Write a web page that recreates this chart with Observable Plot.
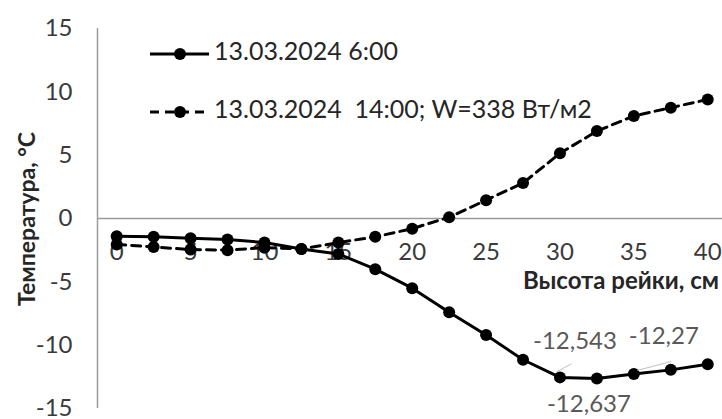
<!DOCTYPE html>
<html>
<head>
<meta charset="utf-8">
<script src="https://cdn.jsdelivr.net/npm/d3@7"></script>
<script src="https://cdn.jsdelivr.net/npm/@observablehq/plot@0.6"></script>
<style>
  html, body { margin: 0; padding: 0; background: #fff; }
  #chart { width: 722px; height: 419px; overflow: hidden; }
</style>
</head>
<body>
<div id="chart"></div>
<script>
const heights = [0, 2.5, 5, 7.5, 10, 12.5, 15, 17.5, 20, 22.5, 25, 27.5, 30, 32.5, 35, 37.5, 40];
const temp0600 = [-1.4, -1.45, -1.55, -1.65, -1.9, -2.4, -2.8, -4.0, -5.5, -7.4, -9.2, -11.15, -12.543, -12.637, -12.27, -11.95, -11.5];
const temp1400 = [-2.05, -2.25, -2.45, -2.5, -2.3, -2.4, -1.9, -1.45, -0.8, 0.1, 1.45, 2.8, 5.15, 6.9, 8.1, 8.75, 9.4];
const seriesNames = ["13.03.2024 6:00", "13.03.2024  14:00; W=338 Вт/м2"];
const xTicks = [0, 5, 10, 15, 20, 25, 30, 35, 40];
const yTicks = [-15, -10, -5, 0, 5, 10, 15];
const xTitle = "Высота рейки, см";
const yTitle = "Температура, °С";
const labelled = [30, 32.5, 35];
const xDomain = [-1.3, 41];
const yDomain = [-15, 15];

const s1 = heights.map((h, i) => ({h, t: temp0600[i]}));
const s2 = heights.map((h, i) => ({h, t: temp1400[i]}));
const lab = s1.filter(d => labelled.includes(d.h));
const fmt = v => String(v).replace(".", ",");
const labOffsets = {30: [15, -28], 32.5: [-8, 33], 35: [30, -30]};

const FONT = "Lato, 'Open Sans', sans-serif";
const plot = Plot.plot({
  width: 722, height: 419,
  marginLeft: 97, marginRight: 0, marginTop: 28, marginBottom: 11,
  style: {fontFamily: FONT, fontSize: "24px", color: "#3a3a3a", background: "#fff"},
  x: {domain: xDomain, axis: null},
  y: {domain: yDomain, axis: null},
  marks: [
    Plot.ruleX([xDomain[0]], {stroke: "#9a9a9a", strokeWidth: 1.5}),
    Plot.ruleY([0], {stroke: "#9a9a9a", strokeWidth: 1.5}),
    Plot.axisY({ticks: yTicks, tickSize: 0, tickPadding: 25, label: null, fontSize: 24, fill: "#3a3a3a", tickFormat: d => String(d)}),
    Plot.text(xTicks, {x: d => d, y: 0, dy: 34, text: d => String(d), fontSize: 24, fill: "#3a3a3a"}),
    Plot.line(s1, {x: "h", y: "t", stroke: "#000", strokeWidth: 3}),
    Plot.dot(s1, {x: "h", y: "t", r: 6, fill: "#000"}),
    Plot.line(s2, {x: "h", y: "t", stroke: "#000", strokeWidth: 3, strokeDasharray: "9,6"}),
    Plot.dot(s2, {x: "h", y: "t", r: 6, fill: "#000"}),
    Plot.text(lab, {x: "h", y: "t", text: d => fmt(d.t), fill: "#595959", fontSize: 24,
      render: (index, scales, values, dims, ctx, next) => {
        const g = next(index, scales, values, dims, ctx);
        d3.select(g).selectAll("text").each(function(_, k) {
          const d = lab[index[k]];
          const o = labOffsets[d.h];
          const el = d3.select(this);
          el.attr("transform", null);
          el.attr("x", scales.x(d.h) + o[0]).attr("y", scales.y(d.t) + o[1]);
        });
        return g;
      }})
  ]
});
document.getElementById("chart").appendChild(plot);

const svg = d3.select(plot);
const xs = plot.scale("x"), ys = plot.scale("y");
// leader lines
[[30, [-3, -5], [12, -13]], [35, [4, -3], [38, -12]]].forEach(([h, a, b]) => {
  const d = s1.find(p => p.h === h);
  const px = xs.apply(d.h), py = ys.apply(d.t);
  svg.append("line").attr("x1", px + a[0]).attr("y1", py + a[1]).attr("x2", px + b[0]).attr("y2", py + b[1])
    .attr("stroke", "#bfbfbf").attr("stroke-width", 1);
});

// axis titles
svg.append("text").attr("x", 719).attr("y", 283).attr("text-anchor", "end").attr("dominant-baseline", "middle")
  .attr("font-family", FONT).attr("font-weight", "bold").attr("font-size", 24).attr("fill", "#262626").text(xTitle);
svg.append("text").attr("transform", "translate(29,219) rotate(-90)").attr("text-anchor", "middle").attr("dominant-baseline", "middle")
  .attr("font-family", FONT).attr("font-weight", "bold").attr("font-size", 23).attr("fill", "#262626").text(yTitle);

// legend
const leg = svg.append("g");
seriesNames.forEach((name, i) => {
  const y = i === 0 ? 54 : 112;
  leg.append("line").attr("x1", 150).attr("x2", 209).attr("y1", y).attr("y2", y)
    .attr("stroke", "#000").attr("stroke-width", 3).attr("stroke-dasharray", i === 0 ? null : "9,6");
  leg.append("circle").attr("cx", 180).attr("cy", y).attr("r", 6).attr("fill", "#000");
  leg.append("text").attr("x", 214).attr("y", y).attr("text-anchor", "start").attr("dominant-baseline", "middle")
    .attr("font-family", FONT).attr("font-size", 25).attr("fill", "#262626").style("white-space", "pre").text(name);
});
</script>
</body>
</html>
